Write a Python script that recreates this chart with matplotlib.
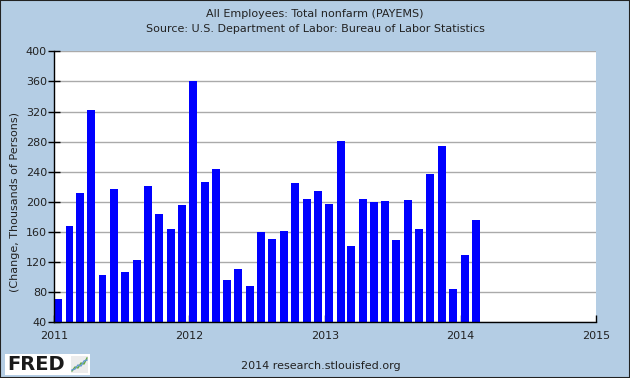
import matplotlib
matplotlib.use("Agg")
import matplotlib.pyplot as plt
import matplotlib.dates as mdates
from matplotlib.patches import Rectangle
from matplotlib.lines import Line2D
import datetime as dt

# ---- data ----
start_year, start_month = 2011, 1
values = [71, 168, 212, 322, 103, 217, 107, 123, 221, 184, 164, 196,
          360, 226, 244, 96, 111, 88, 160, 151, 161, 225, 204, 214,
          197, 281, 141, 204, 200, 201, 149, 202, 164, 237, 274, 84,
          129, 176]
year_ticks = [2011, 2012, 2013, 2014, 2015]
y_ticks = [40, 80, 120, 160, 200, 240, 280, 320, 360, 400]
title_lines = ["All Employees: Total nonfarm (PAYEMS)",
               "Source: U.S. Department of Labor: Bureau of Labor Statistics"]
y_label = "(Change, Thousands of Persons)"
footer = "2014 research.stlouisfed.org"

dates = []
for i in range(len(values)):
    m = start_month - 1 + i
    dates.append(dt.date(start_year + m // 12, m % 12 + 1, 1))

BG = "#b4cde4"
W, H = 630, 378
fig = plt.figure(figsize=(W / 100, H / 100), dpi=100, facecolor=BG)
ax = fig.add_axes([54 / W, 1 - 322.3 / H, (596 - 54) / W, (322.3 - 51.3) / H])
ax.set_facecolor("white")

ax.bar(dates, [v - 40 for v in values], bottom=40, width=21.5, align="edge",
       color="#0000ff", linewidth=0, zorder=3)

ax.set_xlim(dt.date(year_ticks[0], 1, 1), dt.date(year_ticks[-1], 1, 1))
ax.set_ylim(y_ticks[0], y_ticks[-1])
ax.set_yticks(y_ticks)
ax.set_xticks([dt.date(y, 1, 1) for y in year_ticks])
ax.xaxis.set_major_formatter(mdates.DateFormatter("%Y"))

ax.yaxis.grid(True, color="#aaaaaa", linewidth=1.0, zorder=1)
ax.set_axisbelow(True)
for s in ["top", "right"]:
    ax.spines[s].set_visible(False)
for s in ["left", "bottom"]:
    ax.spines[s].set_color("black")
    ax.spines[s].set_linewidth(1.0)
    ax.spines[s].set_zorder(5)

ax.tick_params(axis="y", direction="inout", length=9, width=1, color="black",
               labelsize=8, labelcolor="#222222", pad=0.5)
ax.tick_params(axis="x", direction="in", length=5, width=1, color="black",
               labelsize=8, labelcolor="#222222", pad=6)

fig.text(15 / W, 1 - 202.5 / H, y_label, rotation=90, ha="center", va="center",
         fontsize=8, color="#222222")

fig.text(0.5, 1 - 14 / H, title_lines[0], ha="center", va="center",
         fontsize=8, color="#222222")
fig.text(0.5, 1 - 29 / H, title_lines[1], ha="center", va="center",
         fontsize=8, color="#222222")
fig.text(321 / W, 1 - 366 / H, footer, ha="center", va="center",
         fontsize=8, color="#222222")

# FRED logo
fig.patches.append(Rectangle((5 / W, 1 - 375 / H), 85 / W, 21 / H,
                             transform=fig.transFigure, facecolor="white",
                             edgecolor="none"))
fig.text(7 / W, 1 - 365 / H, "FRED", ha="left", va="center",
         fontsize=14, fontweight="heavy", color="#1a1a1a",
         family="DejaVu Sans")
fig.patches.append(Rectangle((71 / W, 1 - 373 / H), 17 / W, 17 / H,
                             transform=fig.transFigure, facecolor="#ececec",
                             edgecolor="none"))
icon_x = [72, 75, 78, 81, 84, 87]
icon_g = [371, 367, 368, 363, 364, 358]
icon_b = [370, 369, 365, 366, 361, 360]
fig.lines.append(Line2D([x / W for x in icon_x], [1 - y / H for y in icon_g],
                        transform=fig.transFigure, color="#66aa44", linewidth=1))
fig.lines.append(Line2D([x / W for x in icon_x], [1 - y / H for y in icon_b],
                        transform=fig.transFigure, color="#6699cc", linewidth=1))

# figure border
fig.patches.append(Rectangle((0, 0), 1, 1, transform=fig.transFigure,
                             facecolor="none", edgecolor="#222222", linewidth=1.5))

fig.savefig("out.png", dpi=100, facecolor=BG)
